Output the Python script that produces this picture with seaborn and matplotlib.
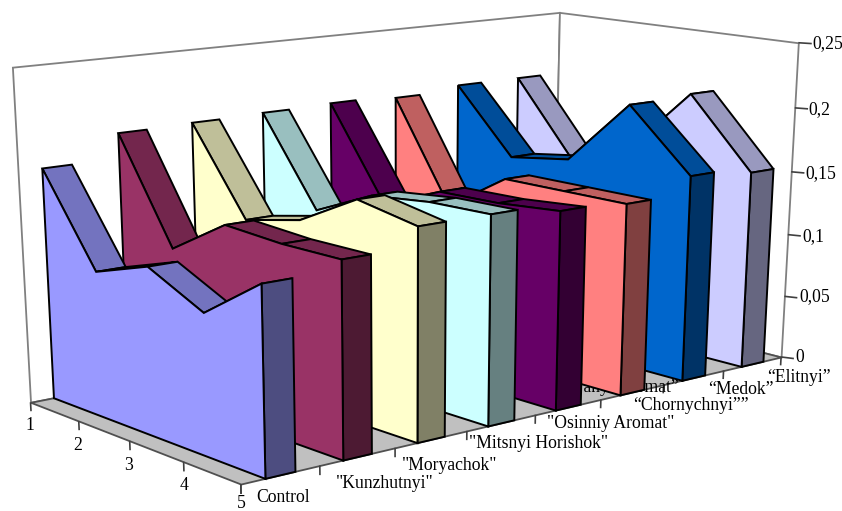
import numpy as np
import matplotlib
matplotlib.use("Agg")
import matplotlib.pyplot as plt
import matplotlib.transforms as mtransforms
import seaborn as sns
from mpl_toolkits.mplot3d.art3d import Poly3DCollection

# Measurement points along the depth axis
sample_points = [1, 2, 3, 4, 5]

# Series, from the front of the chart to the back
control = [0.175, 0.109, 0.124, 0.103, 0.135]
kunzhutnyi = [0.194, 0.117, 0.145, 0.142, 0.142]
moryachok = [0.195, 0.130, 0.140, 0.165, 0.156]
mitsnyi = [0.196, 0.129, 0.150, 0.155, 0.156]
osinniy = [0.197, 0.126, 0.145, 0.146, 0.150]
aromat = [0.195, 0.116, 0.147, 0.147, 0.147]
chornychnyi = [0.199, 0.148, 0.155, 0.206, 0.160]
medok = [0.199, 0.140, 0.156, 0.208, 0.155]
all_series = [control, kunzhutnyi, moryachok, mitsnyi, osinniy, aromat, chornychnyi, medok]

series_colors = ["#9999FF", "#993366", "#FFFFCC", "#CCFFFF", "#660066", "#FF8080", "#0066CC", "#CCCCFF"]

value_ticks = [0, 0.05, 0.1, 0.15, 0.2, 0.25]
value_labels = ["0", "0,05", "0,1", "0,15", "0,2", "0,25"]
value_label_spots = [(795, 357), (799, 297), (802, 237), (805, 174), (808, 110), (812, 44)]
depth_label_spots = [(30, 426), (78, 446), (129, 465), (184, 486), (241, 504)]

category_labels = ["Control", '"Kunzhutnyi"', '"Moryachok"', '"Mitsnyi Horishok"', '"Osinniy Aromat"',
                   "“Pryanyi Aromat”", "“Chornychnyi””", "“Medok”", "“Elitnyi”"]
category_spots = [(283, 498), (385, 483), (450, 465), (539, 444), (611, 424),
                  (615, 388), (691, 406), (741, 390), (799, 378)]

W, H = 842, 511
N_SERIES = len(all_series)
FACE_FRONT, FACE_BACK = 0.30, 0.68
GRID = "#808080"
TEXT_SIZE = 12.7

# Camera: where points of the chart box land on the canvas, in canvas pixels
camera_marks = [((0, 1, 0), (31, 402)), ((0, 1, .25), (12, 67)), ((0, 1, .2), (17, 137)), ((0, 1, .15), (19, 206)),
                ((0, 1, .1), (24, 272)), ((0, 1, .05), (27, 337)), ((0, 2, 0), (78, 421)), ((0, 3, 0), (129, 441)),
                ((0, 4, 0), (183, 462)), ((0, 5, 0), (242, 484)), ((1, 5, 0), (321, 465)), ((2, 5, 0), (394, 448)),
                ((4, 5, 0), (535, 415)), ((5, 5, 0), (602, 399)), ((7, 5, 0), (723, 371)), ((8, 5, 0), (781, 357)),
                ((8, 5, .25), (798, 42)), ((8, 5, .2), (795, 108)), ((8, 5, .15), (791, 172)),
                ((8, 1, .25), (559, 13)), ((8, 1, .2), (559, 71))]


def fit_camera(marks):
    """Solve the 3x4 perspective matrix from the point pairs (direct linear transform)."""
    rows = []
    for (x, y, z), (u, v) in marks:
        z = z * 40
        rows.append([x, y, z, 1, 0, 0, 0, 0, -u * x, -u * y, -u * z, -u])
        rows.append([0, 0, 0, 0, x, y, z, 1, -v * x, -v * y, -v * z, -v])
    _, _, vt = np.linalg.svd(np.array(rows, float))
    cam = vt[-1].reshape(3, 4)
    cam[:, 2] *= 40
    return cam / cam[2, 3]


CAMERA = fit_camera(camera_marks)

sns.set_theme(style="white")
sns.set_palette(series_colors)
palette = sns.color_palette()
plt.rcParams["font.family"] = ["Liberation Serif", "DejaVu Serif"]

fig = plt.figure(figsize=(W / 100, H / 100), dpi=100, facecolor="white")
ax = fig.add_axes([0, 0, 1, 1], projection="3d", computed_zorder=False)
ax.set_axis_off()
ax.set_autoscale_on(False)
ax.patch.set_visible(False)


def chart_projection():
    """Projection matrix for mplot3d: chart coordinates to the axes' 2D view."""
    to_display = np.array([[1, 0, 0], [0, -1, H], [0, 0, 1]], float)
    view = ax.transData.inverted().get_matrix() @ to_display @ CAMERA
    depth = np.linalg.svd(view)[2][-1]
    return np.vstack([view[0], view[1], depth, view[2]])


ax.get_proj = chart_projection
canvas = mtransforms.Affine2D().scale(1 / W, -1 / H).translate(0, 1) + fig.transFigure


def add_poly(corners, face, zorder, edge="black", lw=1.4):
    poly = Poly3DCollection([corners], facecolors=[face], edgecolors=[edge], linewidths=lw,
                            zorder=zorder, joinstyle="miter")
    poly.set_clip_on(False)
    ax.add_collection3d(poly, autolim=False)


def add_line(xs, ys, zs, color=GRID, lw=1.2, zorder=3):
    ax.plot(xs, ys, zs, color=color, lw=lw, zorder=zorder, clip_on=False, solid_capstyle="butt")


def shaded(color, factor):
    return tuple(c * factor for c in color)


# Walls and floor of the chart box
y0, y1 = sample_points[0], sample_points[-1]
top = value_ticks[-1]
add_poly([(0, y0, 0), (N_SERIES, y0, 0), (N_SERIES, y0, top), (0, y0, top)], "white", 1, GRID, 1.3)
add_poly([(N_SERIES, y0, 0), (N_SERIES, y1, 0), (N_SERIES, y1, top), (N_SERIES, y0, top)], "white", 1, GRID, 1.3)
add_poly([(0, y0, 0), (N_SERIES, y0, 0), (N_SERIES, y1, 0), (0, y1, 0)], "#C0C0C0", 2, "#505050", 1.3)

for level in value_ticks[1:-1]:
    add_line([0, N_SERIES, N_SERIES], [y0, y0, y1], [level] * 3)

# Axis ticks and their labels
for level, label, (px, py) in zip(value_ticks, value_labels, value_label_spots):
    add_line([N_SERIES, N_SERIES + 0.06], [y1, y1 + 0.15], [level, level], "#404040")
    ax.text2D(px, py, label, transform=canvas, ha="left", va="center", fontsize=TEXT_SIZE, color="black", clip_on=False)
for point, (px, py) in zip(sample_points, depth_label_spots):
    add_line([0, 0], [point, point], [0, -0.007], "#404040")
    ax.text2D(px, py, str(point), transform=canvas, ha="center", va="center", fontsize=TEXT_SIZE, color="black", clip_on=False)
for tick in range(N_SERIES + 1):
    add_line([tick, tick], [y1, y1], [0, -0.007], "#404040")
for label, (px, py) in zip(category_labels, category_spots):
    ax.text2D(px, py, label, transform=canvas, ha="center", va="center", fontsize=TEXT_SIZE, color="black",
              clip_on=False, zorder=3)

# Each series is a slab: top strips first, then its end cap, then the front face over them
for index, (values, color) in enumerate(zip(all_series, palette)):
    near, far = index + FACE_FRONT, index + FACE_BACK
    layer = 10 + (N_SERIES - index) * 5
    for a in range(len(values) - 1):
        add_poly([(near, sample_points[a], values[a]), (far, sample_points[a], values[a]),
                  (far, sample_points[a + 1], values[a + 1]), (near, sample_points[a + 1], values[a + 1])],
                 shaded(color, 0.75), layer)
    add_poly([(near, y1, 0), (far, y1, 0), (far, y1, values[-1]), (near, y1, values[-1])],
             shaded(color, 0.5), layer + 1)
    outline = [(near, y0, 0)] + [(near, p, v) for p, v in zip(sample_points, values)] + [(near, y1, 0)]
    add_poly(outline, color, layer + 2)

fig.savefig("out.png", dpi=100, facecolor="white")
